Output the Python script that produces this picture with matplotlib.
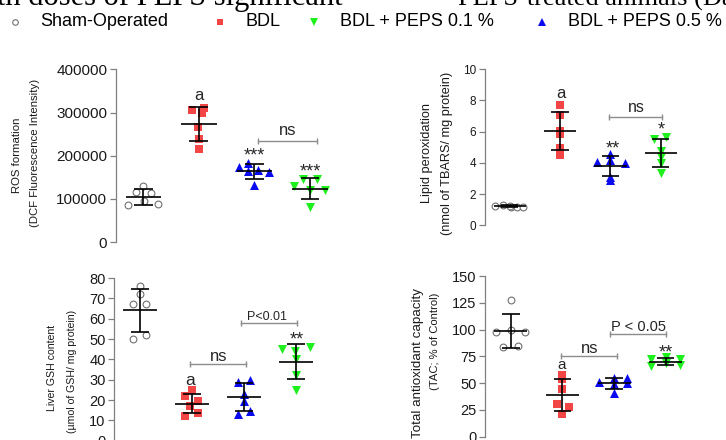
## four scatter panels with mean +/- SD bars
import numpy as np
import matplotlib
matplotlib.use('Agg')
import matplotlib.pyplot as plt
from matplotlib.lines import Line2D
from matplotlib.ticker import FormatStrFormatter

plt.rcParams['font.family'] = ['Liberation Sans', 'DejaVu Sans']

## group names in the legend order
legend_labels = ['Sham-Operated', 'BDL', 'BDL + PEPS 0.1 %', 'BDL + PEPS 0.5 %']

## values, plot order: sham, BDL, PEPS 0.5 %, PEPS 0.1 %
ros_sham = [85700, 115800, 129700, 95800, 112700, 87300]
ros_bdl = [305800, 309700, 267200, 239400, 214700, 300000]
ros_p05 = [173000, 182200, 164500, 166800, 162900, 132000]
ros_p01 = [130500, 145200, 145200, 120500, 120500, 81900]

lpo_sham = [1.25, 1.30, 1.20, 1.15, 1.18, 1.22]
lpo_bdl = [7.70, 7.10, 6.05, 5.85, 4.95, 4.50]
lpo_p05 = [4.08, 4.57, 4.19, 4.01, 3.12, 2.90]
lpo_p01 = [5.51, 5.68, 4.78, 4.40, 3.97, 3.33]

gsh_sham = [50.0, 72.3, 76.2, 67.0, 67.0, 52.0]
gsh_bdl = [24.9, 22.0, 19.7, 17.2, 13.8, 12.1]
gsh_p05 = [29.0, 29.8, 22.8, 19.7, 13.0, 14.8]
gsh_p01 = [45.1, 44.3, 46.2, 40.2, 32.3, 24.9]

tac_sham = [127.6, 98.0, 99.6, 98.0, 83.4, 84.7]
tac_bdl = [57.6, 54.0, 44.2, 30.2, 28.0, 20.9]
tac_p05 = [50.7, 54.5, 55.1, 49.2, 49.8, 40.5]
tac_p01 = [72.2, 74.7, 72.8, 66.0, 68.5, 66.9]

## horizontal scatter of the points inside each group
ros_jit = [[-0.28, -0.14, 0, 0.01, 0.14, 0.27], [-0.13, 0.09, -0.01, 0, 0, 0.05],
           [-0.28, -0.11, -0.11, 0.07, 0.27, 0], [-0.28, -0.13, 0.13, 0, 0.27, 0]]
lpo_jit = [[-0.3, -0.13, 0.03, 0.15, 0.26, 0], [0, 0, 0, 0, 0, 0],
           [-0.27, 0, 0, 0.28, 0, 0], [-0.13, 0.1, 0, 0, 0, 0]]
gsh_jit = [[-0.13, 0, 0, -0.13, 0.12, 0.12], [0, -0.13, 0.12, -0.03, 0.12, -0.13],
           [-0.12, 0.12, 0, 0, -0.12, 0.12], [-0.26, -0.02, 0.27, 0, 0, 0]]
tac_jit = [[0, -0.28, 0, 0.28, -0.14, 0.14], [0, 0, 0, -0.11, 0.13, 0],
           [-0.29, 0, 0.26, 0, 0.26, 0], [-0.28, 0, 0.27, -0.28, 0, 0.27]]

W, H = 726, 440
fig = plt.figure(figsize=(W / 100, H / 100), dpi=100)

## marker styles in plot order
styles = [dict(marker='o', s=24, facecolors='white', edgecolors='#707070', linewidths=0.8),
          dict(marker='s', s=32, color='#f24646', linewidths=0),
          dict(marker='^', s=42, color='#0a0af0', linewidths=0),
          dict(marker='v', s=42, color='#1ef01e', linewidths=0)]

def add_panel(rect, groups, jit, ylim, ticks, tsize):
    x0, yt, x1, yb = rect
    ax = fig.add_axes([x0 / W, 1 - yb / H, (x1 - x0) / W, (yb - yt) / H])
    for i, (vals, off, st) in enumerate(zip(groups, jit, styles)):
        xpos = i + 1 + np.array(off)
        ax.scatter(xpos, vals, zorder=2, clip_on=False, **st)
        m = np.mean(vals)
        sd = np.std(vals, ddof=1)
        ## mean line, SD whisker and caps
        ax.hlines(m, i + 1 - 0.32, i + 1 + 0.32, color='k', lw=1.2, zorder=3)
        ax.vlines(i + 1, m - sd, m + sd, color='k', lw=1.2, zorder=3)
        ax.hlines([m - sd, m + sd], i + 1 - 0.17, i + 1 + 0.17, color='k', lw=1.2, zorder=3)
    ax.set_xlim(0.5, 4.6)
    ax.set_ylim(*ylim)
    ax.set_yticks(ticks)
    ax.yaxis.set_major_formatter(FormatStrFormatter('%d'))
    ax.set_xticks([])
    for side in ['top', 'right', 'bottom']:
        ax.spines[side].set_visible(False)
    ax.spines['left'].set_color('#808080')
    ax.spines['left'].set_linewidth(0.9)
    ax.tick_params(axis='y', length=4.5, width=0.9, color='#808080',
                   labelsize=tsize, pad=1.5, labelcolor='#1a1a1a')
    ax.patch.set_alpha(0)
    return ax

def note(ax, x, y, s, size, dy):
    ax.annotate(s, (x, y), xytext=(0, -dy), textcoords='offset points',
                ha='center', va='baseline', fontsize=size, color='#262626')

def bracket(ax, xa, xb, y):
    ax.plot([xa, xb], [y, y], color='#8c8c8c', lw=1, marker='|', ms=4, mew=1)

def ylab(x, y, s, size):
    fig.text(x / W, 1 - y / H, s, rotation=90, ha='center', va='center',
             fontsize=size, color='#1a1a1a')

## ROS formation
ax1 = add_panel((115.5, 69.5, 343.4, 242), [ros_sham, ros_bdl, ros_p05, ros_p01],
                ros_jit, (0, 400000), [0, 100000, 200000, 300000, 400000], 11)
note(ax1, 2, 340500, 'a', 12, 3.2)
note(ax1, 3, 213000, '***', 13, 7.5)
note(ax1, 4, 176000, '***', 13, 7.5)
bracket(ax1, 3.06, 4.13, 234700)
note(ax1, 3.59, 259500, 'ns', 12, 3.2)
ylab(16.7, 155, 'ROS formation', 8.2)
ylab(35, 153.3, '(DCF Fluorescence Intensity)', 8.2)

## lipid peroxidation
ax2 = add_panel((484.5, 69.3, 691, 225.3), [lpo_sham, lpo_bdl, lpo_p05, lpo_p01],
                lpo_jit, (0, 10), [0, 2, 4, 6, 8, 10], 8.5)
note(ax2, 2.01, 8.46, 'a', 12, 3.2)
bracket(ax2, 2.97, 4.03, 6.97)
note(ax2, 3.52, 7.5, 'ns', 11.5, 3.0)
note(ax2, 3.04, 5.26, '**', 13, 7.5)
note(ax2, 4.01, 6.47, '*', 13, 7.5)
ylab(426.7, 153.3, 'Lipid peroxidation', 9.2)
ylab(446.7, 153.3, '(nmol of TBARS/ mg protein)', 9.2)

## liver GSH
ax3 = add_panel((114, 278, 327.2, 440.7), [gsh_sham, gsh_bdl, gsh_p05, gsh_p01],
                gsh_jit, (0, 80), [0, 10, 20, 30, 40, 50, 60, 70, 80], 10.5)
note(ax3, 1.96, 29.5, 'a', 12.5, 3.3)
bracket(ax3, 1.96, 3.04, 37.5)
note(ax3, 2.52, 41.6, 'ns', 12, 3.2)
bracket(ax3, 2.94, 4.01, 57.7)
note(ax3, 3.44, 61.3, 'P<0.01', 9, 3.2)
note(ax3, 4.01, 52.5, '**', 13, 7.5)
ylab(51.7, 368.3, 'Liver GSH content', 7.6)
ylab(71.7, 371.7, '(\u00b5mol of GSH/ mg protein)', 7.6)

## total antioxidant capacity
ax4 = add_panel((484.9, 276, 696.7, 436.7), [tac_sham, tac_bdl, tac_p05, tac_p01],
                tac_jit, (0, 150), [0, 25, 50, 75, 100, 125, 150], 10.5)
note(ax4, 1.99, 66.9, 'a', 11, 2.9)
bracket(ax4, 1.97, 3.05, 75.3)
note(ax4, 2.52, 81.9, 'ns', 12, 3.2)
bracket(ax4, 2.93, 4.01, 95.9)
note(ax4, 3.48, 103.3, 'P < 0.05', 10.5, 3.7)
note(ax4, 4.01, 84, '**', 13, 7.5)
ylab(418.3, 363, 'Total antioxidant capacity', 9.6)
ylab(435, 341, '(TAC; % of Control)', 8.1)

## legend row along the top
leg_style = [dict(marker='o', ms=4, mfc='white', mec='#707070', mew=0.8),
             dict(marker='s', ms=5, mfc='#f24646', mec='#f24646', mew=0),
             dict(marker='v', ms=5.5, mfc='#1ef01e', mec='#1ef01e', mew=0),
             dict(marker='^', ms=5.5, mfc='#0a0af0', mec='#0a0af0', mew=0)]
leg_mx = [15, 220, 314, 542]
leg_tx = [40.7, 245, 340, 568.5]
for lab, st, mx, tx in zip(legend_labels, leg_style, leg_mx, leg_tx):
    fig.add_artist(Line2D([mx / W], [1 - 22 / H], transform=fig.transFigure,
                          linestyle='none', **st))
    fig.text(tx / W, 1 - 26.5 / H, lab, va='baseline', fontsize=13, color='k')

## clipped caption line above the figure
fig.text(-3 / W, 1 - 5.5 / H, 'th doses of PEPS significant-', fontsize=22,
         family=['Liberation Serif', 'DejaVu Serif'], va='baseline')
fig.text(458 / W, 1 - 5.5 / H, 'PEPS-treated animals (Da', fontsize=19,
         family=['Liberation Serif', 'DejaVu Serif'], va='baseline')

fig.savefig('out.png', dpi=100)
